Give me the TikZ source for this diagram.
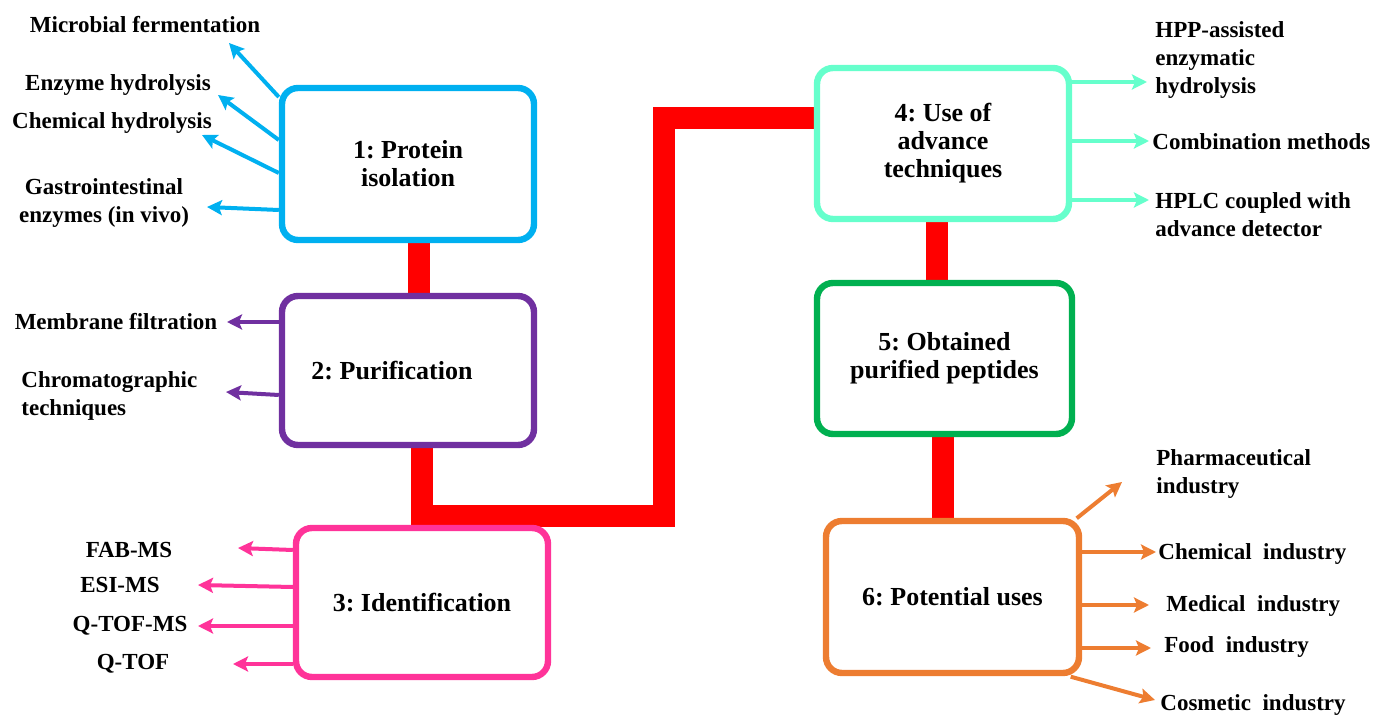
\documentclass[tikz,border=0pt]{standalone}
\usepackage{fontspec}
\setmainfont{Liberation Serif}
\usetikzlibrary{arrows.meta,calc,backgrounds}
\definecolor{cBlue}{HTML}{00B0F0}
\definecolor{cPurple}{HTML}{7030A0}
\definecolor{cPink}{HTML}{FF3399}
\definecolor{cAqua}{HTML}{66FFCC}
\definecolor{cGreen}{HTML}{00B050}
\definecolor{cOrange}{HTML}{ED7D31}
\definecolor{cRed}{HTML}{FF0000}
\frenchspacing
\begin{document}
\begin{tikzpicture}[x=0.5pt,y=-0.5pt,
  box/.style={draw, line width=3.2pt, rounded corners=8pt, fill=white, align=center,
    font=\bfseries\fontsize{13}{14}\selectfont, inner sep=0pt},
  redbar/.style={draw=cRed, line width=11pt},
  lab/.style={font=\bfseries\fontsize{11.5}{14}\selectfont, align=center, inner sep=0pt},
  labr/.style={lab, anchor=west, align=left},
  arr/.style={line width=2pt, -{Stealth[length=7.5pt,width=7.5pt,inset=1.5pt]}},
]
\useasboundingbox (0,0) rectangle (1376,715);

% boxes
\path (408,164) node[box, draw=cBlue, minimum width=126pt, minimum height=76pt] (b1) {1: Protein\\isolation};
\path (408,370.5) node[box, draw=cPurple, minimum width=126pt, minimum height=74.5pt] (b2) {2: Purification\hspace*{16pt}};
\path (422,602.5) node[box, draw=cPink, minimum width=126pt, minimum height=74.5pt] (b3) {3: Identification};
\path (943,143.5) node[box, draw=cAqua, minimum width=126pt, minimum height=75.5pt] (b4) {4: Use of\\advance\\techniques};
\path (944.5,358.5) node[box, draw=cGreen, minimum width=127.5pt, minimum height=75.5pt] (b5) {5: Obtained\\purified peptides};
\path (952.5,597) node[box, draw=cOrange, minimum width=126.5pt, minimum height=76pt] (b6) {6: Potential uses};

% red connectors (behind boxes)
\coordinate (rj) at (663.5,516);
\begin{scope}[on background layer]
\draw[redbar] ($(b1.south)+(11,0)$) -- ($(b2.north)+(11,0)$);
\draw[redbar] ($(b2.south)+(13.5,0)$) |- (rj) |- ($(b4.west)+(0,-25)$);
\draw[redbar] ($(b4.south)+(-6.5,0)$) -- ($(b5.north)+(-8,0)$);
\draw[redbar] ($(b5.south)+(-1.5,0)$) -- ($(b6.north)+(-9.5,0)$);
\end{scope}

% labels
\node[lab] (l1a) at (145,25) {Microbial fermentation};
\node[lab] (l1b) at (118,85) {Enzyme hydrolysis};
\node[lab] (l1c) at (112,123) {Chemical hydrolysis};
\node[lab] (l1d) at (104,203) {Gastrointestinal\\enzymes (in vivo)};
\node[lab] (l2a) at (116,322) {Membrane filtration};
\node[labr] (l2b) at (21,396) {Chromatographic\\techniques};
\node[lab] (l3a) at (129,550) {FAB-MS};
\node[lab] (l3b) at (120,585) {ESI-MS};
\node[lab] (l3c) at (130,626) {Q-TOF-MS};
\node[lab] (l3d) at (133,664) {Q-TOF};
\node[labr] (l4a) at (1155,60) {HPP-assisted\\enzymatic\\hydrolysis};
\node[labr] (l4b) at (1152,142) {Combination methods};
\node[labr] (l4c) at (1155,215) {HPLC coupled with\\advance detector};
\node[labr] (l6a) at (1156,474) {Pharmaceutical\\industry};
\node[labr] (l6b) at (1158,554) {Chemical\ \ industry};
\node[labr] (l6c) at (1166,606) {Medical\ \ industry};
\node[labr] (l6d) at (1164,647) {Food\ \ industry};
\node[labr] (l6e) at (1160,705) {Cosmetic\ \ industry};

% arrow tips
\coordinate (t1a) at (229,43);
\coordinate (t1b) at (218,95);
\coordinate (t1c) at (202,135);
\coordinate (t1d) at (207,207);
\coordinate (t2a) at (227,322);
\coordinate (t2b) at (226,392);
\coordinate (t3a) at (238,548);
\coordinate (t3b) at (198,585);
\coordinate (t3c) at (198,626);
\coordinate (t3d) at (233,664);
\coordinate (t4a) at (1147,82);
\coordinate (t4b) at (1149,141);
\coordinate (t4c) at (1149,200);
\coordinate (t6a) at (1122,482);
\coordinate (t6b) at (1156,552);
\coordinate (t6c) at (1149,605);
\coordinate (t6d) at (1151,648);
\coordinate (t6e) at (1155,700);

% arrows
\draw[arr, cBlue] ($(b1.west)+(0,-67)$) -- (t1a);
\draw[arr, cBlue] ($(b1.west)+(0,-24)$) -- (t1b);
\draw[arr, cBlue] ($(b1.west)+(0,9)$) -- (t1c);
\draw[arr, cBlue] ($(b1.west)+(0,46)$) -- (t1d);
\draw[arr, cPurple] ($(b2.west)+(0,-48.5)$) -- (t2a);
\draw[arr, cPurple] ($(b2.west)+(0,24.5)$) -- (t2b);
\draw[arr, cPink] ($(b3.west)+(0,-52.5)$) -- (t3a);
\draw[arr, cPink] ($(b3.west)+(0,-15.5)$) -- (t3b);
\draw[arr, cPink] ($(b3.west)+(0,23.5)$) -- (t3c);
\draw[arr, cPink] ($(b3.west)+(0,61.5)$) -- (t3d);
\draw[arr, cAqua] ($(b4.east)+(0,-61.5)$) -- (t4a);
\draw[arr, cAqua] ($(b4.east)+(0,-2.5)$) -- (t4b);
\draw[arr, cAqua] ($(b4.east)+(0,56.5)$) -- (t4c);
\draw[arr, cOrange] ($(b6.north east)+(-5.5,0.5)$) -- (t6a);
\draw[arr, cOrange] ($(b6.east)+(0,-45)$) -- (t6b);
\draw[arr, cOrange] ($(b6.east)+(0,8)$) -- (t6c);
\draw[arr, cOrange] ($(b6.east)+(0,51)$) -- (t6d);
\draw[arr, cOrange] ($(b6.south east)+(-11.5,0.5)$) -- (t6e);
\end{tikzpicture}
\end{document}
